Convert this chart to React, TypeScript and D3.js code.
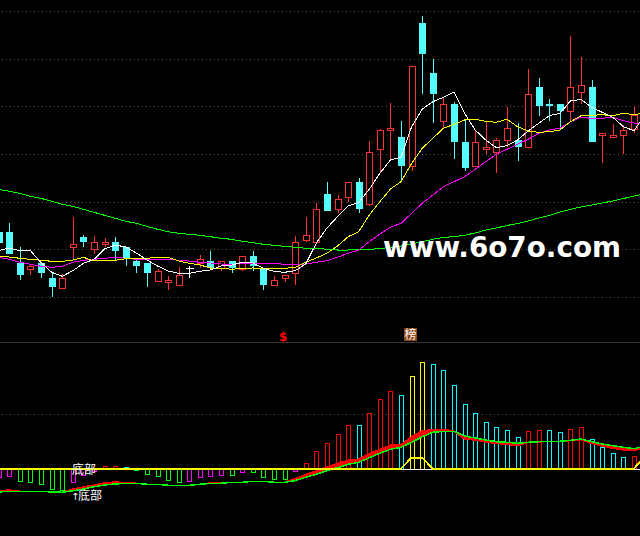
import React from 'react';
import * as d3 from 'd3';

// Prices: arbitrary unit, 47.6 units = one grid step
const bodyTops = [568,568,537.3,534,537,522,522,555.7,563,557.7,557.7,558,553,539,537,529,519.7,524.7,532,540.7,539,538.7,539,543.7,544,531,519.7,524.7,557.7,564.7,590.7,606,600.7,617.7,618,647.7,669.7,671.7,663,733.7,777,727,695.7,696,658,657.7,652.7,659.7,671.7,659.7,705.7,713,695.7,695.7,712.7,714.7,713,666.7,664.7,669.7,684.7];
const bodyBottoms = [557,546,525,531.3,527,513,512.3,552.3,558,550.3,555.3,549.3,541,534,527,519,517.3,514.3,532,536.7,532,532,532,531,534,515,514.3,521.3,526.3,559.3,557.3,589,590.3,602.3,591.3,595.3,650.3,669.3,634,633.3,746,706,678.3,658,632,633.3,650.3,647.3,659.3,653,652.3,694,694,689,688.3,707.3,658,664.7,662.3,664.3,670.7];
const highs  = [576,577.3,553.3,536,538.3,528.3,526,583,565,564,562,563,553,540.7,537,531,524,533,534,545,549,538.7,539,543.7,549,531,524,525,564,583,597,618,605,617.7,622,659,670.7,697,679,734,784,740.7,701.7,697.7,680,670,678,661.7,693,676.7,731,722,701,696,764,743,720,667,676,674.7,693];
const lows   = [557,546,520,525,522.3,503.3,512.3,541,553,546,553,540,534,527,513,519,510,514.3,522,532,530,529,527,529,529,510,514.3,518,515,558,557.3,589,587.3,598,587,594,628.3,641,620,629.3,706,677,670.7,641,629,633.3,645.7,627,652.7,639,652.3,684,679,670,679,696,658,637,662.3,646,667];
const candleKinds = 'cccrccrrcrrccccrrrwrcrcrccrrrrrcrrcrrrcrccrccrrrrcrcccrrcrrrr';

const ma5  = [549.3,552,549.3,549.3,537.3,527.7,523.7,529.3,536.7,540.7,551,555,553,547,540,534,529,526.7,526.7,528.7,530,534,535,537.7,537,531.7,528.7,527.7,529.3,536,557,572,583.3,594,597.7,610.7,626.7,640,642.7,673.3,691,698.3,702.7,708,686.7,670,660,652.3,654.3,660,669,676.7,684.3,686.7,699,700.7,692.7,687.7,682.7,673.3,669.3,685];
const ma10 = [544,543,541.7,540.7,539.7,538.7,538.7,540,542.7,539,539.7,539.7,541.3,541.3,541.7,542.7,542.7,539,536.7,535,532,532,530.7,531.7,532,531.7,531.7,531.7,532.7,537.7,542,546.7,554,563.3,568.3,585,598.3,611,618.3,636.7,651.7,661.7,671.7,675.7,680,680.7,678.7,677.7,680.7,673.3,669,667.7,668.3,670,678.3,684.3,684.7,685.3,684.3,686.7,685.3,687];
const ma20 = [542.7,540.7,537.7,535.7,533.7,532.7,533.7,537.7,539.7,540.7,541.7,542.7,541.7,540.7,540.7,540.7,540.7,539.7,539,537.7,537,536,535.7,536.7,536.7,536.7,536.7,535.7,535.7,536,537.7,539.3,542.7,546.7,550,558.3,566,572.7,576.7,586.7,596.7,605,613.3,618.3,623.3,630.7,638.3,645.7,650.7,655.7,660.7,666.7,670,671.7,678.3,682.7,681.7,681.7,682.7,679.3,677,677];
const ma60 = [610.7,608.7,606.7,603.7,601.7,598.7,595.7,593.7,590.7,587.7,584.7,581.7,578.7,576.7,573.7,570.7,568.3,566.7,565.7,564.7,563.3,561.7,560.7,558.7,557.3,555.7,554.7,553.7,552.7,551.7,551.7,550.7,550,550,550.7,550.7,551.3,552.7,554,556,558.3,560.7,562.7,563.3,564.7,567,570,572,574.5,576.5,579,582,584.5,588,590.7,593,595,597,599,601.5,604,606];

// Lower pane oscillator values
const barValues = [-9.2,-8.2,-13.2,-14.2,-16.2,-21.2,-22.2,-14.2,-7.2,-2.5,2.5,2.5,1.2,-2.2,-6.2,-8.2,-12.2,-14.2,-13.2,-9.2,-8.2,-7.2,-7.2,-4.2,-4.2,-9.2,-11.2,-11.2,-3.2,5.2,17.2,25.2,34.2,43.2,43.2,55.2,69.2,77.2,73.2,92.2,106.2,104.2,98.2,83.2,64.2,55.2,46.2,41.2,38.2,31.2,37.2,38.2,38.2,36.2,39.2,41.2,29.2,21.2,15.2,11.2,12.2];
const barKinds = ['m','m','g','g','g','g','g','m','m','m','r','r','c','g','g','g','g','g','m','m','m','m','g','m','g','g','g','g','m','r','r','r','r','r','c','r','r','r','c','y','y','c','c','c','c','c','c','c','c','c','r','r','c','c','r','r','c','c','c','c','r'];
const deaLine = [-23.5,-22.8,-22.8,-22.8,-22.8,-23.5,-23.8,-22.2,-20.5,-18.2,-16.5,-15.5,-14.8,-14.8,-15.8,-15.8,-16.8,-16.8,-16.8,-15.8,-14.8,-14.8,-13.8,-13.8,-12.8,-12.8,-13.8,-13.8,-12.2,-8.8,-5.8,-2.2,0.8,4.2,6.2,10.8,15.2,19.2,21.2,26.2,31.8,36.2,37.2,37.2,32.5,30.5,28.5,26.8,26.2,25.2,26.2,26.8,27.2,27.2,28.2,29.5,26.8,24.5,22.8,21.2,19.8,22.5];
const difLine = [-22.5,-21.5,-22.8,-22.8,-22.8,-23.5,-23.8,-20.5,-18.5,-16.5,-14.5,-13.5,-14.2,-14.8,-15.8,-15.8,-16.8,-16.8,-16.8,-15.8,-14.5,-14.5,-13.8,-13.8,-12.8,-12.8,-13.8,-13.8,-10.2,-6,-2.3,1.7,5,8.3,9.3,15,19,23.3,23.7,31.7,37.7,39,39.2,37.2,29.2,28.5,26.5,25,24.2,22.8,26.2,26.5,27.2,27.2,27.8,28.8,25,22.5,20.2,18.5,18.2,20.2];
const signalLine = [0,0,0,0,0,0,0,0,0,0,0,0,0,0,0,0,0,0,0,0,0,0,0,0,0,0,0,0,0,0,0,0,0,0,0,0,0,0,0,10.8,10.8,0,0,0,0,0,0,0,0,0,0,0,0,0,0,0,0,0,0,0,0,11];

const upperGridPrices = [502.5,550.5,597.5,645.5,693.5,740.5,788.5];
const lowerGridValues = [54];
const paneDivider = 126;

const xScale = d3.scaleLinear().domain([0, 60]).range([-1.3, 634]);
const yPrice = d3.scaleLinear().domain([264, 800]).range([536, 0]);
const yOsc = d3.scaleLinear().domain([0, 126.5]).range([468.5, 342]);

const CYAN = '#54fcfc';
const RED = '#ff3232';
const kindColor: Record<string, string> = { m: '#ff00ff', g: '#00ff00', r: '#ff0000', c: '#00ffff', y: '#ffff00' };

const priceLine = d3.line<number>().x((_, i) => xScale(i)).y(d => yPrice(d));
const oscLine = d3.line<number>().x((_, i) => xScale(i)).y(d => yOsc(d));
const difBand = d3.area<number>().x((_, i) => xScale(i)).y0((_, i) => yOsc(deaLine[i])).y1(d => yOsc(d));

const snap = (v: number) => Math.round(v) + 0.5;
const row = (v: number) => Math.floor(v) + 0.5;

export default function App() {
  return (
    <svg width={640} height={536} viewBox="0 0 640 536"
      style={{ position: 'absolute', left: 0, top: 0, background: '#000', display: 'block' }}>
      <rect width={640} height={536} fill="#000" />
      <g shapeRendering="crispEdges">
        {upperGridPrices.map(p => (
          <line key={p} x1={2} x2={640} y1={row(yPrice(p))} y2={row(yPrice(p))} stroke="#555" strokeDasharray="1 3" />
        ))}
        {lowerGridValues.map(v => (
          <line key={v} x1={2} x2={640} y1={row(yOsc(v))} y2={row(yOsc(v))} stroke="#555" strokeDasharray="1 3" />
        ))}
        <line x1={0} x2={640} y1={row(yOsc(paneDivider))} y2={row(yOsc(paneDivider))} stroke="#333" />
      </g>

      <g shapeRendering="crispEdges">
        {bodyTops.map((t, i) => {
          const kind = candleKinds[i];
          const cx = snap(xScale(i));
          const color = kind === 'w' ? '#fff' : kind === 'r' ? RED : CYAN;
          const top = yPrice(t);
          const bot = yPrice(bodyBottoms[i]);
          return (
            <g key={i}>
              <line x1={cx} x2={cx} y1={yPrice(highs[i])} y2={top} stroke={color} />
              <line x1={cx} x2={cx} y1={bot} y2={yPrice(lows[i])} stroke={color} />
              {kind === 'w'
                ? <line x1={cx - 4} x2={cx + 4} y1={row(top)} y2={row(top)} stroke={color} />
                : kind === 'r'
                  ? <rect x={cx - 3} y={row(top)} width={6} height={Math.max(1, Math.round(bot - top))} fill="#000" stroke={color} />
                  : <rect x={cx - 3.5} y={Math.round(top)} width={7} height={Math.max(1, Math.round(bot - top))} fill={color} />}
            </g>
          );
        })}
      </g>

      <g fill="none" shapeRendering="crispEdges">
        <path d={priceLine(ma60) ?? ''} stroke="#00ff00" />
        <path d={priceLine(ma20) ?? ''} stroke="#ff00ff" />
        <path d={priceLine(ma10) ?? ''} stroke="#ffff00" />
        <path d={priceLine(ma5) ?? ''} stroke="#ffffff" />
      </g>

      <g fill="none" shapeRendering="crispEdges">
        {barValues.map((v, i) => {
          const cx = snap(xScale(i));
          const y0 = yOsc(0);
          const y1 = yOsc(v);
          return (
            <path key={i} d={`M${cx - 2},${y0}V${row(y1)}H${cx + 2}V${y0}`} stroke={kindColor[barKinds[i]]} />
          );
        })}
        <line x1={0} x2={640} y1={469.5} y2={469.5} stroke="#fff" />
        <path d={difBand(difLine) ?? ''} fill="#ff0000" />
        <path d={oscLine(difLine) ?? ''} stroke="#ff0000" strokeWidth={1.5} />
        <path d={oscLine(deaLine) ?? ''} stroke="#00ff00" strokeWidth={1.5} />
        <path d={oscLine(signalLine) ?? ''} stroke="#ffff00" strokeWidth={2} />
      </g>

      <g fontFamily="'Noto Sans CJK SC'" fontSize={12} fill="#fff">
        <text x={72} y={474}>底部</text>
        <text x={71} y={500} fontFamily="'DejaVu Sans'" fontSize={10}>↑</text>
        <text x={78} y={500}>底部</text>
      </g>
      <text x={279} y={341} fontFamily="'DejaVu Sans'" fontWeight="bold" fontSize={12} fill="#ff0000">$</text>
      <rect x={404} y={328} width={13} height={13} fill="#8b4513" />
      <text x={404.5} y={339} fontFamily="'Noto Sans CJK SC'" fontSize={12} fill="#fff">榜</text>
      <text x={383} y={257} fontFamily="'DejaVu Sans'" fontWeight="bold" fontSize={29} fill="#fff"
        textLength={238} lengthAdjust="spacingAndGlyphs">www.6o7o.com</text>
    </svg>
  );
}
